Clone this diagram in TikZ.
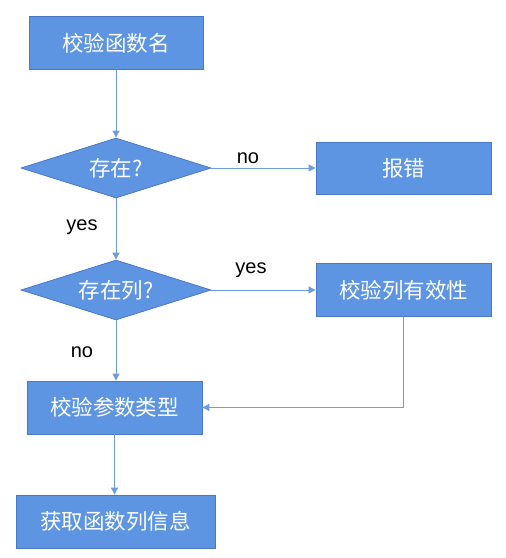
\documentclass[tikz,border=0pt]{standalone}
\usepackage{fontspec}
\setmainfont{Liberation Sans}
\newfontfamily\cjk{Noto Sans CJK SC}
\usetikzlibrary{shapes.geometric,arrows.meta}
\definecolor{boxfill}{HTML}{5D95E3}
\definecolor{boxline}{HTML}{4A78C6}
\definecolor{conn}{HTML}{6A9EE0}
\tikzset{
  procbox/.style={draw=boxline, fill=boxfill, line width=0.8pt, inner sep=0pt, text=white,
    font=\cjk\fontsize{21.5}{25}\selectfont, minimum height=53pt},
  decbox/.style={draw=boxline, fill=boxfill, line width=0.8pt, diamond, aspect=3.17, inner sep=0pt,
    text=white, font=\cjk\fontsize{21.5}{25}\selectfont, minimum width=190pt, minimum height=60pt},
  conn/.style={draw=conn, line width=0.9pt, -{Triangle[width=7pt,length=7pt]}},
  lbl/.style={font=\fontsize{20}{23}\selectfont, text=black, inner sep=0pt}
}
\begin{document}
\begin{tikzpicture}[x=1pt,y=-1pt]
\useasboundingbox (0,0) rectangle (506,558);
\node[procbox, minimum width=174pt] (n1) at (116,43) {校验函数名};
\node[decbox] (d1) at (116,168) {存在?};
\node[procbox, minimum width=175pt, minimum height=52pt] (err) at (403.5,168) {报错};
\node[decbox] (d2) at (116,290) {存在列?};
\node[procbox, minimum width=175pt] (valid) at (403.5,290) {校验列有效性};
\node[procbox, minimum width=175pt] (ptype) at (114.5,407.5) {校验参数类型};
\node[procbox, minimum width=199pt] (info) at (115.5,521.5) {获取函数列信息};

\draw[conn] (n1.south) -- (d1.north);
\draw[conn] (d1.east) -- (err.west);
\draw[conn] (d1.south) -- (d1.south |- d2.north);
\draw[conn] (d2.east) -- (valid.west);
\draw[conn] (d2.south) -- (d2.south |- ptype.north);
\draw[conn] (valid.south) |- (ptype.east);
\draw[conn] (ptype.south) -- (ptype.south |- info.north);

\node[lbl] (l1) at (248,158) {no};
\node[lbl] (l2) at (82,227) {yes};
\node[lbl] (l3) at (251,270) {yes};
\node[lbl] (l4) at (82,352) {no};
\end{tikzpicture}
\end{document}
